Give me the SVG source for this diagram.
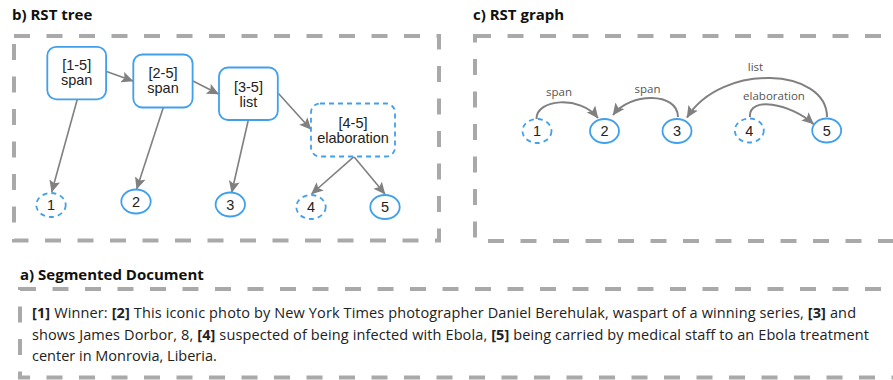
<svg xmlns="http://www.w3.org/2000/svg" width="893" height="380" viewBox="0 0 893 380">
  <defs>
    <style>
      .title { font-family: "Open Sans", "DejaVu Sans", sans-serif; font-weight: bold; font-size: 15px; fill: #111; }
      .frame { fill: none; stroke: #a9a9a9; stroke-width: 4; stroke-dasharray: 16 16.5; }
      .node { fill: #fff; stroke: #41a0eb; stroke-width: 1.8; }
      .dashed { stroke-dasharray: 5 4; }
      .lbl { font-family: "Liberation Sans", Arial, sans-serif; font-size: 14.5px; fill: #222; text-anchor: middle; }
      .edge { fill: none; stroke: #808080; stroke-width: 1.6; marker-end: url(#arr); }
      .arc { fill: none; stroke: #808080; stroke-width: 2; marker-end: url(#arr); }
      .rel { font-family: "Open Sans", "DejaVu Sans", sans-serif; font-size: 11.5px; fill: #555; text-anchor: middle; }
      .doc { font-family: "Open Sans", "DejaVu Sans", sans-serif; font-size: 14.5px; fill: #222; }
      .doc tspan.b { font-weight: bold; }
    </style>
    <marker id="arr" markerUnits="userSpaceOnUse" markerWidth="12" markerHeight="11" viewBox="0 0 12 11" refX="11.5" refY="5.5" orient="auto">
      <path d="M0,0 L12,5.5 L0,11 L2.5,5.5 Z" fill="#808080"/>
    </marker>
  </defs>

  <!-- b) RST tree -->
  <text class="title" x="12" y="19.5">b) RST tree</text>
  <rect class="frame" x="14" y="36" width="425" height="204.5"/>

  <g id="tree-edges">
    <line class="edge" x1="106.5" y1="71.5" x2="133" y2="81"/>
    <line class="edge" x1="193" y1="81" x2="218.5" y2="94"/>
    <line class="edge" x1="278.5" y1="93.5" x2="311" y2="129.5"/>
    <line class="edge" x1="77.3" y1="99.3" x2="51.7" y2="192"/>
    <line class="edge" x1="163.3" y1="107.5" x2="136.7" y2="189"/>
    <line class="edge" x1="248.3" y1="120" x2="231.7" y2="192.5"/>
    <line class="edge" x1="354" y1="156.7" x2="311.5" y2="194"/>
    <line class="edge" x1="354" y1="156.7" x2="385" y2="194"/>
  </g>

  <g id="t-1-5">
    <rect class="node" x="47.3" y="46.8" width="58.8" height="52.5" rx="9"/>
    <text class="lbl" x="76.7" y="70">[1-5]</text>
    <text class="lbl" x="76.7" y="85">span</text>
  </g>
  <g id="t-2-5">
    <rect class="node" x="133.3" y="54.5" width="59.3" height="53" rx="9"/>
    <text class="lbl" x="163" y="78">[2-5]</text>
    <text class="lbl" x="163" y="93">span</text>
  </g>
  <g id="t-3-5">
    <rect class="node" x="219" y="67.5" width="58.8" height="52.5" rx="9"/>
    <text class="lbl" x="248.4" y="91.5">[3-5]</text>
    <text class="lbl" x="248.4" y="106.5">list</text>
  </g>
  <g id="t-4-5">
    <rect class="node dashed" x="311" y="103.5" width="84" height="53" rx="9"/>
    <text class="lbl" x="353" y="128">[4-5]</text>
    <text class="lbl" x="353" y="143">elaboration</text>
  </g>
  <g id="t-1">
    <ellipse class="node dashed" cx="51" cy="205" rx="14.7" ry="12"/>
    <text class="lbl" x="51" y="210">1</text>
  </g>
  <g id="t-2">
    <ellipse class="node" cx="136" cy="201.5" rx="14.7" ry="12"/>
    <text class="lbl" x="136" y="206.5">2</text>
  </g>
  <g id="t-3">
    <ellipse class="node" cx="230.3" cy="204.5" rx="14.7" ry="12"/>
    <text class="lbl" x="230.3" y="209.5">3</text>
  </g>
  <g id="t-4">
    <ellipse class="node dashed" cx="311" cy="207" rx="14.7" ry="12"/>
    <text class="lbl" x="311" y="212">4</text>
  </g>
  <g id="t-5">
    <ellipse class="node" cx="385" cy="207" rx="14.7" ry="12"/>
    <text class="lbl" x="385" y="212">5</text>
  </g>

  <!-- c) RST graph -->
  <text class="title" x="473" y="19.5">c) RST graph</text>
  <rect class="frame" x="475" y="36" width="432" height="205"/>

  <g id="graph-edges">
    <path class="arc" d="M536.5,119 C536,99 580,95 598,118"/>
    <path class="arc" d="M678,117 C678,92 630,92 613,115"/>
    <path class="arc" d="M827,117 C827,68 722,62 687,117.5"/>
    <path class="arc" d="M750,117 C748,96 790,103 813.5,124"/>
    <text class="rel" x="559" y="95.5">span</text>
    <text class="rel" x="647.5" y="92.5">span</text>
    <text class="rel" x="755.5" y="71">list</text>
    <text class="rel" x="774" y="100">elaboration</text>
  </g>

  <g id="g-1">
    <ellipse class="node dashed" cx="537" cy="131" rx="14.5" ry="12"/>
    <text class="lbl" x="537" y="136">1</text>
  </g>
  <g id="g-2">
    <ellipse class="node" cx="604.5" cy="131" rx="14.5" ry="12"/>
    <text class="lbl" x="604.5" y="136">2</text>
  </g>
  <g id="g-3">
    <ellipse class="node" cx="677" cy="131" rx="14.5" ry="12"/>
    <text class="lbl" x="677" y="136">3</text>
  </g>
  <g id="g-4">
    <ellipse class="node dashed" cx="749.3" cy="130.5" rx="14.5" ry="12"/>
    <text class="lbl" x="749.3" y="135.5">4</text>
  </g>
  <g id="g-5">
    <ellipse class="node" cx="826.7" cy="130.5" rx="14.5" ry="12"/>
    <text class="lbl" x="826.7" y="135.5">5</text>
  </g>

  <!-- a) Segmented Document -->
  <text class="title" x="20" y="280">a) Segmented Document</text>
  <rect class="frame" x="20" y="289" width="887" height="88.5"/>
  <text class="doc" x="32" y="318" textLength="824" lengthAdjust="spacing"><tspan class="b">[1]</tspan> Winner: <tspan class="b">[2]</tspan> This iconic photo by New York Times photographer Daniel Berehulak, waspart of a winning series, <tspan class="b">[3]</tspan> and</text>
  <text class="doc" x="32" y="339.5" textLength="837" lengthAdjust="spacing">shows James Dorbor, 8, <tspan class="b">[4]</tspan> suspected of being infected with Ebola, <tspan class="b">[5]</tspan> being carried by medical staff to an Ebola treatment</text>
  <text class="doc" x="32" y="361">center in Monrovia, Liberia.</text>
</svg>
